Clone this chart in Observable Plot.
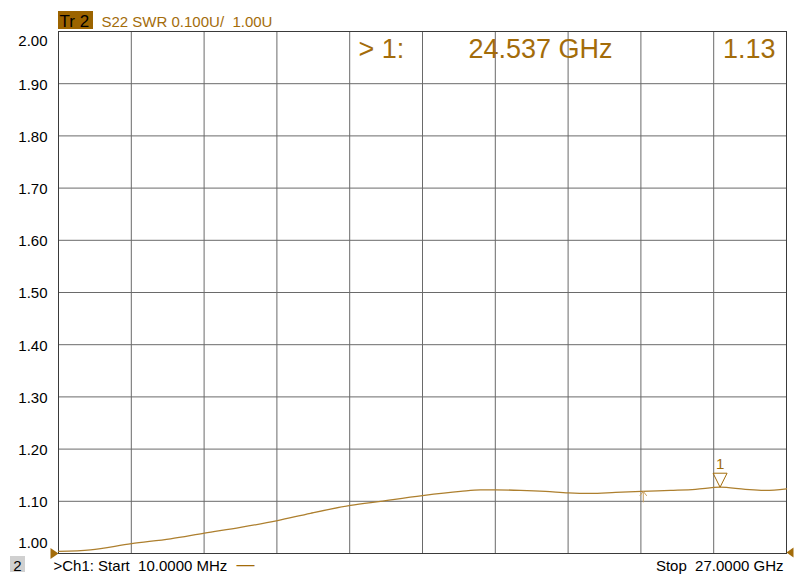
<!DOCTYPE html>
<html><head><meta charset="utf-8">
<script src="https://cdn.jsdelivr.net/npm/d3@7"></script>
<script src="https://cdn.jsdelivr.net/npm/@observablehq/plot@0.6"></script>
<style>
body{margin:0;background:#fff}
svg text{white-space:pre}
</style>
</head><body><div id="chart"></div>
<script>
// ---- data ----
const freqGHz = [0.01, 1.196, 2.716, 4.162, 5.423, 6.757, 8.129, 9.353, 10.836, 11.948, 13.505, 14.914, 15.655, 16.211, 17.138, 18.065, 18.918, 19.733, 20.660, 21.624, 22.699, 23.626, 24.537, 25.474, 26.216, 27.0];
const swr     = [1.004, 1.007, 1.019, 1.028, 1.039, 1.050, 1.063, 1.077, 1.092, 1.100, 1.111, 1.119, 1.122, 1.122, 1.121, 1.119, 1.116, 1.115, 1.117, 1.119, 1.121, 1.123, 1.127, 1.123, 1.121, 1.124];
const yTicks = [1.00, 1.10, 1.20, 1.30, 1.40, 1.50, 1.60, 1.70, 1.80, 1.90, 2.00];
const xGridGHz = [0.01, 2.709, 5.408, 8.107, 10.806, 13.505, 16.204, 18.903, 21.602, 24.301, 27.0];
const startGHz = 0.01, stopGHz = 27.0;
const markerFreqGHz = 24.537, markerSWR = 1.127, markerName = "1";
const refArrowGHz = 21.69, refArrowSWR = 1.119;
const traceTitle = "S22 SWR 0.100U/  1.00U";
const traceTag = "Tr 2";
const readout = ["> 1:", "24.537 GHz", "1.13"];
const footerLeft = ">Ch1: Start  10.0000 MHz";
const footerRight = "Stop  27.0000 GHz";
const channelTag = "2";

const ochre = "#a36c0a";
const traceColor = "#ad7f2e";
const font = "'Liberation Sans', Arial, sans-serif";

const trace = freqGHz.map((f, i) => ({f, v: swr[i]}));

// custom symbols
const invTri = {draw(c){ c.moveTo(0,0); c.lineTo(-7,-14); c.lineTo(7,-14); c.closePath(); }};
const rightTri = {draw(c){ c.moveTo(0,0); c.lineTo(-8,-5.5); c.lineTo(-8,5.5); c.closePath(); }};
const leftTri = {draw(c){ c.moveTo(0,0); c.lineTo(7,-5); c.lineTo(7,5); c.closePath(); }};
const upArrow = {draw(c){ c.moveTo(0,0); c.lineTo(0,11); c.moveTo(-3.5,4.5); c.lineTo(0,0); c.lineTo(3.5,4.5); }};

const W = 801, H = 574, mL = 58, mR = 15, mT = 31, mB = 21;

// boxes drawn relative to the frame
function boxes(index, scales, values, dims) {
  const g = d3.create("svg:g");
  g.append("rect").attr("x", dims.marginLeft).attr("y", dims.marginTop - 20)
    .attr("width", 35).attr("height", 18).attr("fill", "#9c6400");
  g.append("rect").attr("x", 10).attr("y", dims.height - 18)
    .attr("width", 15).attr("height", 16).attr("fill", "#d0d0d0");
  return g.node();
}

const chart = Plot.plot({
  width: W, height: H,
  marginLeft: mL, marginRight: mR, marginTop: mT, marginBottom: mB,
  style: {fontFamily: font, background: "#fff"},
  x: {domain: [startGHz, stopGHz], axis: null},
  y: {domain: [1.0, 2.0], axis: null},
  marks: [
    boxes,
    Plot.ruleX(xGridGHz, {stroke: "#6a6a6a", strokeWidth: 1}),
    Plot.ruleY(yTicks, {stroke: "#6a6a6a", strokeWidth: 1}),
    Plot.frame({stroke: "#3a3a3a", strokeWidth: 1}),
    // y tick labels
    Plot.text(yTicks.slice(1, -1), {y: d => d, text: d => d.toFixed(2), frameAnchor: "left", textAnchor: "end", dx: -11, dy: 1, fontSize: 15, fill: "#000"}),
    Plot.text([yTicks[yTicks.length - 1]], {y: d => d, text: d => d.toFixed(2), frameAnchor: "left", textAnchor: "end", dx: -11, dy: 10, fontSize: 15, fill: "#000"}),
    Plot.text([yTicks[0]], {y: d => d, text: d => d.toFixed(2), frameAnchor: "left", textAnchor: "end", dx: -11, dy: -10, fontSize: 15, fill: "#000"}),
    // trace
    Plot.line(trace, {x: "f", y: "v", stroke: traceColor, strokeWidth: 1.3, curve: "monotone-x"}),
    // reference arrow
    Plot.dot([{f: refArrowGHz, v: refArrowSWR}], {x: "f", y: "v", symbol: upArrow, stroke: "#c9a060", fill: "none", strokeWidth: 1}),
    // marker 1
    Plot.dot([{f: markerFreqGHz, v: markerSWR}], {x: "f", y: "v", symbol: invTri, stroke: ochre, fill: "none", strokeWidth: 1}),
    Plot.text([{f: markerFreqGHz, v: markerSWR}], {x: "f", y: "v", text: () => markerName, dy: -23, fontSize: 15, fill: ochre}),
    // start / stop indicators
    Plot.dot([{f: startGHz, v: 1.0}], {x: "f", y: "v", symbol: rightTri, fill: ochre, stroke: "none"}),
    Plot.dot([{f: stopGHz, v: 1.0}], {x: "f", y: "v", symbol: leftTri, fill: ochre, stroke: "none", dy: -1}),
    // header
    Plot.text([traceTag], {text: d => d, frameAnchor: "top-left", textAnchor: "start", lineAnchor: "bottom", dx: 1, dy: -5, fontSize: 17, fill: "#000"}),
    Plot.text([traceTitle], {text: d => d, frameAnchor: "top-left", textAnchor: "start", lineAnchor: "bottom", dx: 43, dy: -5, fontSize: 15, fill: ochre}),
    // marker readout
    Plot.text([readout[0]], {text: d => d, frameAnchor: "top-left", textAnchor: "start", lineAnchor: "bottom", dx: 300, dy: 26, fontSize: 27, fill: ochre}),
    Plot.text([readout[1]], {text: d => d, frameAnchor: "top-left", textAnchor: "start", lineAnchor: "bottom", dx: 410, dy: 26, fontSize: 27, fill: ochre}),
    Plot.text([readout[2]], {text: d => d, frameAnchor: "top-right", textAnchor: "end", lineAnchor: "bottom", dx: -11, dy: 26, fontSize: 27, fill: ochre}),
    // footer
    Plot.text([channelTag], {text: d => d, frameAnchor: "bottom-left", textAnchor: "middle", lineAnchor: "bottom", dx: -41, dy: 17, fontSize: 15, fill: "#000"}),
    Plot.text([footerLeft], {text: d => d, frameAnchor: "bottom-left", textAnchor: "start", lineAnchor: "bottom", dx: -5, dy: 17, fontSize: 15, fill: "#000"}),
    Plot.text(["\u2014"], {text: d => d, frameAnchor: "bottom-left", textAnchor: "start", lineAnchor: "bottom", dx: 178, dy: 16, fontSize: 18, fill: ochre}),
    Plot.text([footerRight], {text: d => d, frameAnchor: "bottom-right", textAnchor: "end", lineAnchor: "bottom", dx: -3, dy: 17, fontSize: 15, fill: "#000"})
  ]
});
document.getElementById("chart").appendChild(chart);
</script>
</body></html>
